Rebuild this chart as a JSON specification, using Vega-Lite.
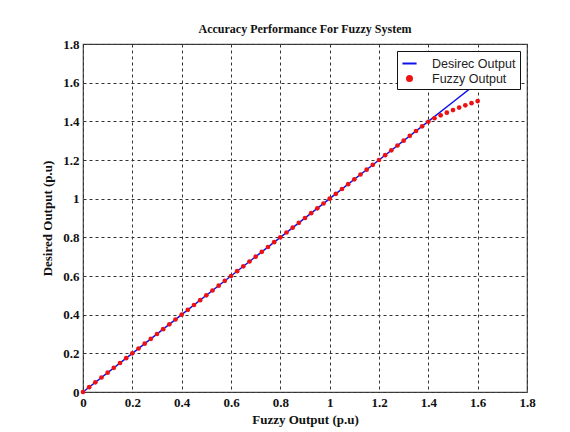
{
  "$schema": "https://vega.github.io/schema/vega-lite/v6.json",
  "autosize": "none",
  "width": 444,
  "height": 348,
  "padding": {"left": 83, "top": 44, "right": 43, "bottom": 40},
  "background": "white",
  "title": {
    "text": "Accuracy Performance For Fuzzy System",
    "font": "Liberation Serif",
    "fontSize": 12,
    "fontWeight": "bold",
    "color": "#111",
    "offset": 2
  },
  "config": {
    "view": {"stroke": "#444", "strokeWidth": 1.2},
    "axis": {
      "labelFont": "Liberation Serif",
      "labelFontSize": 13,
      "labelFontWeight": "bold",
      "labelColor": "#111",
      "titleFont": "Liberation Serif",
      "titleFontSize": 13,
      "titleFontWeight": "bold",
      "titleColor": "#111",
      "grid": true,
      "gridColor": "#333",
      "gridDash": [3, 3],
      "gridWidth": 1,
      "gridOpacity": 1,
      "ticks": false,
      "domain": false,
      "format": "~g"
    }
  },
  "data": {
    "values": [
      {"x": 0, "y": 0, "s": "Desirec Output"},
      {"x": 0.2, "y": 0.2, "s": "Desirec Output"},
      {"x": 0.4, "y": 0.4, "s": "Desirec Output"},
      {"x": 0.6, "y": 0.6, "s": "Desirec Output"},
      {"x": 0.8, "y": 0.8, "s": "Desirec Output"},
      {"x": 1.0, "y": 1.0, "s": "Desirec Output"},
      {"x": 1.2, "y": 1.2, "s": "Desirec Output"},
      {"x": 1.4, "y": 1.4, "s": "Desirec Output"},
      {"x": 1.5, "y": 1.5, "s": "Desirec Output"},
      {"x": 1.6, "y": 1.6, "s": "Desirec Output"},
      {"x": 0, "y": 0, "s": "Fuzzy Output"},
      {"x": 0.025, "y": 0.025, "s": "Fuzzy Output"},
      {"x": 0.05, "y": 0.05, "s": "Fuzzy Output"},
      {"x": 0.075, "y": 0.075, "s": "Fuzzy Output"},
      {"x": 0.1, "y": 0.1, "s": "Fuzzy Output"},
      {"x": 0.125, "y": 0.125, "s": "Fuzzy Output"},
      {"x": 0.15, "y": 0.15, "s": "Fuzzy Output"},
      {"x": 0.175, "y": 0.175, "s": "Fuzzy Output"},
      {"x": 0.2, "y": 0.2, "s": "Fuzzy Output"},
      {"x": 0.225, "y": 0.225, "s": "Fuzzy Output"},
      {"x": 0.25, "y": 0.25, "s": "Fuzzy Output"},
      {"x": 0.275, "y": 0.275, "s": "Fuzzy Output"},
      {"x": 0.3, "y": 0.3, "s": "Fuzzy Output"},
      {"x": 0.325, "y": 0.325, "s": "Fuzzy Output"},
      {"x": 0.35, "y": 0.35, "s": "Fuzzy Output"},
      {"x": 0.375, "y": 0.375, "s": "Fuzzy Output"},
      {"x": 0.4, "y": 0.4, "s": "Fuzzy Output"},
      {"x": 0.425, "y": 0.425, "s": "Fuzzy Output"},
      {"x": 0.45, "y": 0.45, "s": "Fuzzy Output"},
      {"x": 0.475, "y": 0.475, "s": "Fuzzy Output"},
      {"x": 0.5, "y": 0.5, "s": "Fuzzy Output"},
      {"x": 0.525, "y": 0.525, "s": "Fuzzy Output"},
      {"x": 0.55, "y": 0.55, "s": "Fuzzy Output"},
      {"x": 0.575, "y": 0.575, "s": "Fuzzy Output"},
      {"x": 0.6, "y": 0.6, "s": "Fuzzy Output"},
      {"x": 0.625, "y": 0.625, "s": "Fuzzy Output"},
      {"x": 0.65, "y": 0.65, "s": "Fuzzy Output"},
      {"x": 0.675, "y": 0.675, "s": "Fuzzy Output"},
      {"x": 0.7, "y": 0.7, "s": "Fuzzy Output"},
      {"x": 0.725, "y": 0.725, "s": "Fuzzy Output"},
      {"x": 0.75, "y": 0.75, "s": "Fuzzy Output"},
      {"x": 0.775, "y": 0.775, "s": "Fuzzy Output"},
      {"x": 0.8, "y": 0.8, "s": "Fuzzy Output"},
      {"x": 0.825, "y": 0.825, "s": "Fuzzy Output"},
      {"x": 0.85, "y": 0.85, "s": "Fuzzy Output"},
      {"x": 0.875, "y": 0.875, "s": "Fuzzy Output"},
      {"x": 0.9, "y": 0.9, "s": "Fuzzy Output"},
      {"x": 0.925, "y": 0.925, "s": "Fuzzy Output"},
      {"x": 0.95, "y": 0.95, "s": "Fuzzy Output"},
      {"x": 0.975, "y": 0.975, "s": "Fuzzy Output"},
      {"x": 1.0, "y": 1.0, "s": "Fuzzy Output"},
      {"x": 1.025, "y": 1.025, "s": "Fuzzy Output"},
      {"x": 1.05, "y": 1.05, "s": "Fuzzy Output"},
      {"x": 1.075, "y": 1.075, "s": "Fuzzy Output"},
      {"x": 1.1, "y": 1.1, "s": "Fuzzy Output"},
      {"x": 1.125, "y": 1.125, "s": "Fuzzy Output"},
      {"x": 1.15, "y": 1.15, "s": "Fuzzy Output"},
      {"x": 1.175, "y": 1.175, "s": "Fuzzy Output"},
      {"x": 1.2, "y": 1.2, "s": "Fuzzy Output"},
      {"x": 1.225, "y": 1.225, "s": "Fuzzy Output"},
      {"x": 1.25, "y": 1.25, "s": "Fuzzy Output"},
      {"x": 1.275, "y": 1.275, "s": "Fuzzy Output"},
      {"x": 1.3, "y": 1.3, "s": "Fuzzy Output"},
      {"x": 1.325, "y": 1.325, "s": "Fuzzy Output"},
      {"x": 1.35, "y": 1.35, "s": "Fuzzy Output"},
      {"x": 1.375, "y": 1.374, "s": "Fuzzy Output"},
      {"x": 1.4, "y": 1.398, "s": "Fuzzy Output"},
      {"x": 1.425, "y": 1.416, "s": "Fuzzy Output"},
      {"x": 1.45, "y": 1.431, "s": "Fuzzy Output"},
      {"x": 1.475, "y": 1.445, "s": "Fuzzy Output"},
      {"x": 1.5, "y": 1.458, "s": "Fuzzy Output"},
      {"x": 1.525, "y": 1.471, "s": "Fuzzy Output"},
      {"x": 1.55, "y": 1.483, "s": "Fuzzy Output"},
      {"x": 1.575, "y": 1.494, "s": "Fuzzy Output"},
      {"x": 1.6, "y": 1.505, "s": "Fuzzy Output"}
    ]
  },
  "encoding": {
    "x": {
      "field": "x",
      "type": "quantitative",
      "scale": {"domain": [0, 1.8], "nice": false, "zero": false},
      "axis": {"values": [0, 0.2, 0.4, 0.6, 0.8, 1, 1.2, 1.4, 1.6, 1.8], "title": "Fuzzy Output (p.u)", "labelPadding": 4, "titlePadding": 4, "labelFlush": false}
    },
    "y": {
      "field": "y",
      "type": "quantitative",
      "scale": {"domain": [0, 1.8], "nice": false, "zero": false},
      "axis": {"values": [0, 0.2, 0.4, 0.6, 0.8, 1, 1.2, 1.4, 1.6, 1.8], "title": "Desired Output (p.u)", "labelPadding": 4, "titlePadding": 8, "labelFlush": false}
    },
    "color": {
      "field": "s",
      "type": "nominal",
      "scale": {"domain": ["Desirec Output", "Fuzzy Output"], "range": ["#1010ee", "#ee1111"]},
      "legend": {
        "title": null,
        "orient": "top-right",
        "offset": 7,
        "fillColor": "white",
        "strokeColor": "#111",
        "padding": 4,
        "labelFont": "Liberation Sans",
        "labelFontSize": 12.5,
        "labelColor": "#222",
        "labelOffset": 14,
        "rowPadding": 0,
        "symbolSize": 100,
        "encode": {
          "symbols": {
            "update": {
              "shape": {"signal": "datum.value === 'Fuzzy Output' ? 'circle' : 'stroke'"},
              "size": {"signal": "datum.value === 'Fuzzy Output' ? 25 : 200"},
              "fill": {"signal": "datum.value === 'Fuzzy Output' ? '#ee1111' : 'transparent'"},
              "stroke": {"signal": "datum.value === 'Fuzzy Output' ? 'transparent' : '#1010ee'"},
              "strokeWidth": {"value": 2},
              "opacity": {"value": 1}
            }
          }
        }
      }
    }
  },
  "layer": [
    {
      "transform": [{"filter": "datum.s === 'Desirec Output'"}],
      "mark": {"type": "line", "strokeWidth": 1.5}
    },
    {
      "transform": [{"filter": "datum.s === 'Fuzzy Output'"}],
      "mark": {"type": "point", "filled": true, "size": 22, "opacity": 1}
    }
  ]
}
